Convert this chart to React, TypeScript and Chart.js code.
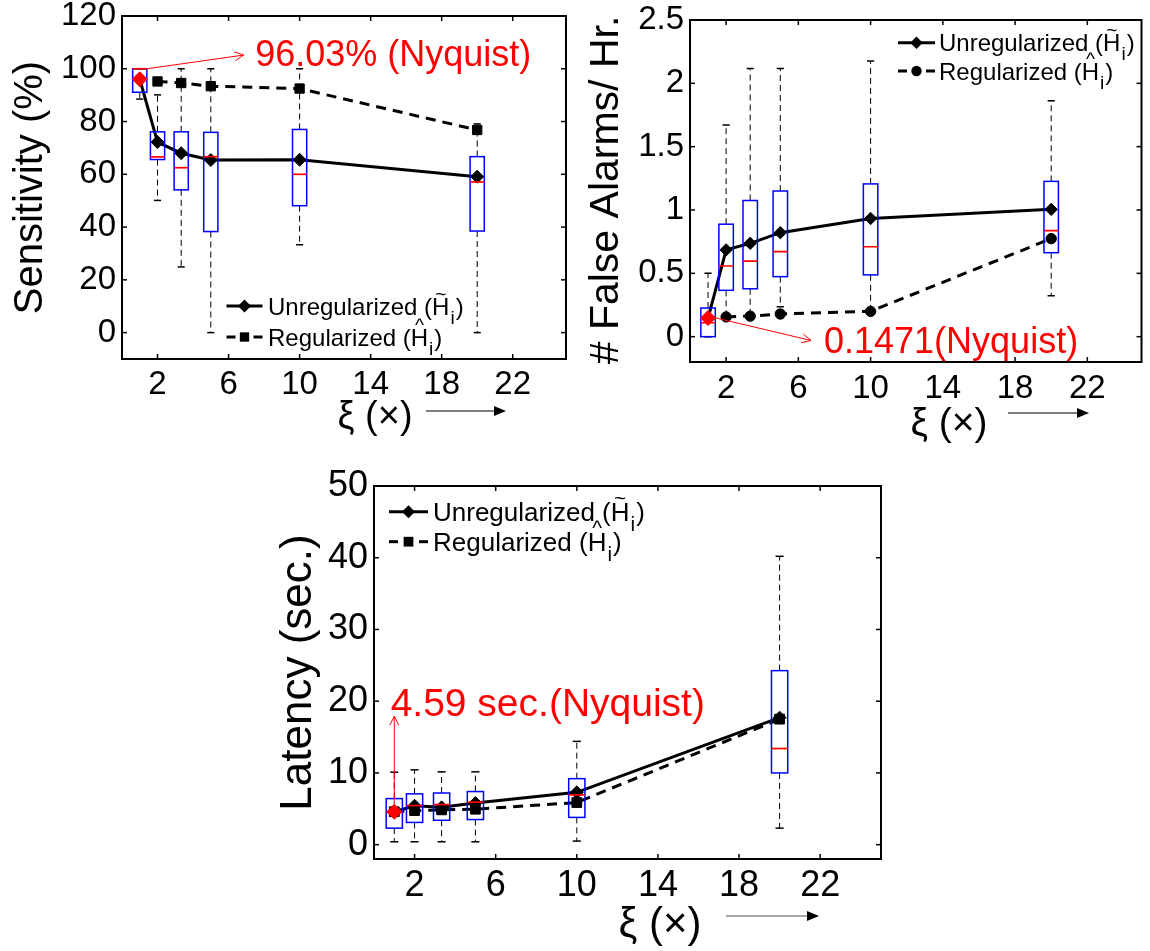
import React, { useEffect, useRef } from 'react';
import { Chart, registerables } from 'chart.js';

Chart.register(...registerables);

const FONT = '"Liberation Sans", Arial, Helvetica, sans-serif';

// ---------------- data ----------------
const XI_BOX = [1, 2, 10 / 3, 5, 10, 20];
const XI_UNREG = [1, 2, 10 / 3, 5, 10, 20];
const XI_REG = [2, 10 / 3, 5, 10, 20];
const XI_REG_LAT = [1, 2, 10 / 3, 5, 10, 20];
const XI_NYQ = [1];
const X_TICKS = [2, 6, 10, 14, 18, 22];

// Sensitivity (%)
const SENS_TICKS = [0, 20, 40, 60, 80, 100, 120];
const SENS_NYQUIST = [96.03];
const SENS_UNREG = [96.03, 72.2, 68.0, 65.4, 65.5, 59.1];
const SENS_REG = [95.2, 94.6, 93.4, 92.5, 76.8];
const SENS_LO = [88.5, 50.1, 24.9, 0, 33.3, 0];
const SENS_Q1 = [91.1, 65.6, 54.1, 38.3, 48.1, 38.5];
const SENS_MED = [100, 66.6, 62.5, 66.7, 60.0, 57.1];
const SENS_Q3 = [100, 76.1, 76.1, 75.9, 77.0, 66.7];
const SENS_HI = [100, 90.1, 100, 100, 100, 79.1];

// # False alarms / hr
const FA_TICKS = [0, 0.5, 1, 1.5, 2, 2.5];
const FA_NYQUIST = [0.1471];
const FA_UNREG = [0.1471, 0.685, 0.737, 0.821, 0.933, 1.005];
const FA_REG = [0.156, 0.162, 0.179, 0.2, 0.774];
const FA_LO = [0, 0.16, 0.16, 0.237, 0.2, 0.324];
const FA_Q1 = [0, 0.366, 0.378, 0.474, 0.488, 0.663];
const FA_MED = [0.11, 0.558, 0.597, 0.671, 0.71, 0.837];
const FA_Q3 = [0.226, 0.888, 1.075, 1.15, 1.206, 1.226];
const FA_HI = [0.5, 1.671, 2.118, 2.118, 2.176, 1.863];

// Latency (sec.)
const LAT_TICKS = [0, 10, 20, 30, 40, 50];
const LAT_NYQUIST = [4.59];
const LAT_UNREG = [4.59, 5.43, 5.2, 5.8, 7.3, 17.7];
const LAT_REG = [4.59, 4.75, 4.85, 4.94, 5.87, 17.5];
const LAT_LO = [0.4, 0.4, 0.4, 0.4, 0.5, 2.3];
const LAT_Q1 = [2.3, 3.1, 3.4, 3.5, 3.8, 10.0];
const LAT_MED = [4.5, 5.45, 5.59, 5.92, 6.94, 13.4];
const LAT_Q3 = [6.42, 7.08, 7.2, 7.4, 9.2, 24.26];
const LAT_HI = [10.1, 10.43, 10.15, 10.15, 14.4, 40.2];

// ---------------- styles ----------------
const BOX_HALF = 0.4;
const CAP_HALF = 0.2;

type Pt = [number, number];
interface BoxSet { x: number[]; lo: number[]; q1: number[]; med: number[]; q3: number[]; hi: number[] }
interface PanelCfg {
  canvas: { left: number; top: number; width: number; height: number };
  area: { left: number; top: number; right: number; bottom: number };
  yMin: number; yMax: number; yTicks: number[];
  tickSize: number; xTickPad: number; yTickPad: number;
  nyqX: number[]; nyqY: number[]; nyqR: number;
  unregX: number[]; unregY: number[]; unregR: number;
  regX: number[]; regY: number[]; regR: number; regStyle: 'rect' | 'circle';
  boxes: BoxSet;
  yTitle: { text: string; x: number; y: number; size: number };
  xTitle: { x: number; y: number; size: number };
  arrow: { x0: number; x1: number; y: number; color: string };
  note: { text: string; at: Pt; size: number; from: Pt; to: Pt };
  legend: { x0: number; x1: number; tx: number; rows: [number, number]; size: number };
}

function drawMarker(ctx: CanvasRenderingContext2D, style: string, x: number, y: number, r: number) {
  ctx.beginPath();
  if (style === 'rectRot') {
    ctx.moveTo(x, y - r); ctx.lineTo(x + r, y); ctx.lineTo(x, y + r); ctx.lineTo(x - r, y); ctx.closePath();
  } else if (style === 'rect') {
    const s = r * Math.SQRT1_2;
    ctx.rect(x - s, y - s, 2 * s, 2 * s);
  } else {
    ctx.arc(x, y, r, 0, Math.PI * 2);
  }
  ctx.fill();
}

function line(ctx: CanvasRenderingContext2D, x0: number, y0: number, x1: number, y1: number) {
  ctx.beginPath(); ctx.moveTo(x0, y0); ctx.lineTo(x1, y1); ctx.stroke();
}

function drawBoxes(chart: any, b: BoxSet) {
  const { ctx, chartArea: a } = chart;
  const xs = chart.scales.x, ys = chart.scales.y;
  ctx.save();
  ctx.beginPath(); ctx.rect(a.left, a.top, a.right - a.left, a.bottom - a.top); ctx.clip();
  for (let i = 0; i < b.x.length; i++) {
    const xc = xs.getPixelForValue(b.x[i]);
    const xl = xs.getPixelForValue(b.x[i] - BOX_HALF);
    const xr = xs.getPixelForValue(b.x[i] + BOX_HALF);
    const cl = xs.getPixelForValue(b.x[i] - CAP_HALF);
    const cr = xs.getPixelForValue(b.x[i] + CAP_HALF);
    const yLo = ys.getPixelForValue(b.lo[i]);
    const yQ1 = ys.getPixelForValue(b.q1[i]);
    const yMed = ys.getPixelForValue(b.med[i]);
    const yQ3 = ys.getPixelForValue(b.q3[i]);
    const yHi = ys.getPixelForValue(b.hi[i]);
    ctx.strokeStyle = '#000';
    ctx.lineWidth = 1;
    ctx.setLineDash([6, 4]);
    if (yHi < yQ3) line(ctx, xc, yQ3, xc, yHi);
    if (yLo > yQ1) line(ctx, xc, yQ1, xc, yLo);
    ctx.setLineDash([]);
    ctx.lineWidth = 1.5;
    line(ctx, cl, yHi, cr, yHi);
    line(ctx, cl, yLo, cr, yLo);
    ctx.strokeStyle = '#0000ff';
    ctx.lineWidth = 1.5;
    ctx.strokeRect(xl, yQ3, xr - xl, yQ1 - yQ3);
    ctx.strokeStyle = '#ff0000';
    ctx.lineWidth = 1.7;
    line(ctx, xl, yMed, xr, yMed);
  }
  ctx.restore();
}

function drawFrame(chart: any) {
  const { ctx, chartArea: a } = chart;
  const xs = chart.scales.x, ys = chart.scales.y;
  ctx.save();
  ctx.strokeStyle = '#000';
  ctx.lineWidth = 1.5;
  const tl = 5;
  xs.ticks.forEach((t: any) => {
    const p = xs.getPixelForValue(t.value);
    line(ctx, p, a.bottom, p, a.bottom - tl);
    line(ctx, p, a.top, p, a.top + tl);
  });
  ys.ticks.forEach((t: any) => {
    const p = ys.getPixelForValue(t.value);
    line(ctx, a.left, p, a.left + tl, p);
    line(ctx, a.right, p, a.right - tl, p);
  });
  ctx.lineWidth = 2;
  ctx.strokeRect(a.left, a.top, a.right - a.left, a.bottom - a.top);
  ctx.restore();
}

function arrowHead(ctx: CanvasRenderingContext2D, x0: number, y0: number, x1: number, y1: number, len: number, half: number, filled: boolean) {
  const ang = Math.atan2(y1 - y0, x1 - x0);
  const bx = x1 - Math.cos(ang) * len, by = y1 - Math.sin(ang) * len;
  const px = -Math.sin(ang) * half, py = Math.cos(ang) * half;
  ctx.beginPath();
  ctx.moveTo(bx + px, by + py);
  ctx.lineTo(x1, y1);
  ctx.lineTo(bx - px, by - py);
  if (filled) { ctx.closePath(); ctx.fill(); } else ctx.stroke();
}

function drawLabelWithAccent(ctx: CanvasRenderingContext2D, word: string, accent: string, x: number, base: number, fs: number) {
  ctx.font = `${fs}px ${FONT}`;
  ctx.textAlign = 'left';
  ctx.textBaseline = 'alphabetic';
  let cx = x;
  const head = word + ' (';
  ctx.fillText(head, cx, base);
  cx += ctx.measureText(head).width;
  const hw = ctx.measureText('H').width;
  ctx.fillText('H', cx, base);
  ctx.save();
  ctx.textAlign = 'center';
  ctx.font = `${fs * 0.8}px ${FONT}`;
  ctx.fillText(accent, cx + hw / 2, base - fs * 0.62);
  ctx.restore();
  cx += hw;
  ctx.font = `${fs * 0.8}px ${FONT}`;
  ctx.fillText('i', cx + 1, base + fs * 0.38);
  cx += ctx.measureText('i').width + 2;
  ctx.font = `${fs}px ${FONT}`;
  ctx.fillText(')', cx, base);
}

function drawOverlay(chart: any, cfg: PanelCfg) {
  const ctx: CanvasRenderingContext2D = chart.ctx;
  const xs = chart.scales.x, ys = chart.scales.y;
  ctx.save();
  // y title
  ctx.fillStyle = '#000';
  ctx.save();
  ctx.translate(cfg.yTitle.x, cfg.yTitle.y);
  ctx.rotate(-Math.PI / 2);
  ctx.font = `${cfg.yTitle.size}px ${FONT}`;
  ctx.textAlign = 'center';
  ctx.textBaseline = 'middle';
  ctx.fillText(cfg.yTitle.text, 0, 0);
  ctx.restore();
  // x title
  ctx.font = `${cfg.xTitle.size}px ${FONT}`;
  ctx.textAlign = 'center';
  ctx.textBaseline = 'middle';
  ctx.fillText('\u03BE (\u00D7)', cfg.xTitle.x, cfg.xTitle.y);
  // x arrow
  const ar = cfg.arrow;
  ctx.strokeStyle = ar.color;
  ctx.lineWidth = 1.2;
  line(ctx, ar.x0, ar.y, ar.x1 - 8, ar.y);
  ctx.fillStyle = '#000';
  arrowHead(ctx, ar.x0, ar.y, ar.x1, ar.y, 12, 5, true);

  // red note
  const n = cfg.note;
  ctx.strokeStyle = '#ff0000';
  ctx.fillStyle = '#ff0000';
  ctx.lineWidth = 1;
  const fx = xs.getPixelForValue(n.from[0]), fy = ys.getPixelForValue(n.from[1]);
  const tx = xs.getPixelForValue(n.to[0]), ty = ys.getPixelForValue(n.to[1]);
  line(ctx, fx, fy, tx, ty);
  arrowHead(ctx, fx, fy, tx, ty, 9, 4.5, false);
  ctx.font = `${n.size}px ${FONT}`;
  ctx.textAlign = 'left';
  ctx.textBaseline = 'middle';
  ctx.fillText(n.text, xs.getPixelForValue(n.at[0]), ys.getPixelForValue(n.at[1]));

  // legend
  const lg = cfg.legend;
  const mid = (lg.x0 + lg.x1) / 2;
  ctx.strokeStyle = '#000';
  ctx.fillStyle = '#000';
  ctx.lineWidth = 3;
  const [r1, r2] = lg.rows;
  line(ctx, lg.x0, r1, lg.x1, r1);
  drawMarker(ctx, 'rectRot', mid, r1, cfg.unregR);
  line(ctx, lg.x0, r2, lg.x0 + 9, r2);
  line(ctx, lg.x1 - 9, r2, lg.x1, r2);
  drawMarker(ctx, cfg.regStyle, mid, r2, cfg.regR);
  const cap = lg.size * 0.36;
  drawLabelWithAccent(ctx, 'Unregularized', '~', lg.tx, r1 + cap, lg.size);
  drawLabelWithAccent(ctx, 'Regularized', '^', lg.tx, r2 + cap, lg.size);
  ctx.restore();
}

function buildChart(canvas: HTMLCanvasElement, cfg: PanelCfg) {
  const A = cfg.area, C = cfg.canvas;
  const yWidth = A.left;
  const xHeight = C.height - A.bottom;
  const tickFont = { family: FONT, size: cfg.tickSize, lineHeight: 1 };
  const panelPlugin = {
    id: 'panelPlugin',
    beforeDatasetDraw(chart: any, args: any) {
      if (args.index === 0) drawBoxes(chart, cfg.boxes);
    },
    afterDraw(chart: any) {
      drawFrame(chart);
      drawOverlay(chart, cfg);
    },
  };
  return new Chart(canvas, {
    type: 'line',
    data: {
      datasets: [
        {
          label: 'Nyquist',
          data: cfg.nyqX.map((x, i) => ({ x, y: cfg.nyqY[i] })),
          showLine: false,
          pointStyle: 'rectRot',
          pointRadius: cfg.nyqR,
          pointBackgroundColor: '#ff0000',
          pointBorderColor: '#ff0000',
          pointBorderWidth: 1,
          borderColor: '#ff0000',
        },
        {
          label: 'Regularized',
          data: cfg.regX.map((x, i) => ({ x, y: cfg.regY[i] })),
          borderColor: '#000',
          borderWidth: 3,
          borderDash: [10, 7],
          pointStyle: cfg.regStyle,
          pointRadius: cfg.regR,
          pointBackgroundColor: '#000',
          pointBorderColor: '#000',
          pointBorderWidth: 1,
          tension: 0,
          fill: false,
        },
        {
          label: 'Unregularized',
          data: cfg.unregX.map((x, i) => ({ x, y: cfg.unregY[i] })),
          borderColor: '#000',
          borderWidth: 3,
          pointStyle: 'rectRot',
          pointRadius: cfg.unregR,
          pointBackgroundColor: '#000',
          pointBorderColor: '#000',
          pointBorderWidth: 1,
          tension: 0,
          fill: false,
        },
      ],
    } as any,
    options: {
      responsive: false,
      animation: false,
      events: [],
      layout: { padding: { left: 0, top: A.top, right: C.width - A.right, bottom: 0 } },
      plugins: { legend: { display: false }, tooltip: { enabled: false } },
      scales: {
        x: {
          type: 'linear',
          min: 0,
          max: 25,
          grid: { display: false, drawTicks: false },
          border: { display: false },
          ticks: {
            font: tickFont, color: '#000', padding: cfg.xTickPad, maxRotation: 0, autoSkip: false,
            callback: (v: any) => String(v),
          },
          afterBuildTicks: (s: any) => { s.ticks = X_TICKS.map((v) => ({ value: v })); },
          afterFit: (s: any) => {
            s.height = xHeight; s.paddingLeft = 0; s.paddingRight = 0; s.paddingTop = 0; s.paddingBottom = 0;
          },
        },
        y: {
          type: 'linear',
          min: cfg.yMin,
          max: cfg.yMax,
          grid: { display: false, drawTicks: false },
          border: { display: false },
          ticks: {
            font: tickFont, color: '#000', padding: cfg.yTickPad, autoSkip: false,
            callback: (v: any) => String(v),
          },
          afterBuildTicks: (s: any) => { s.ticks = cfg.yTicks.map((v) => ({ value: v })); },
          afterFit: (s: any) => {
            s.width = yWidth; s.paddingLeft = 0; s.paddingRight = 0; s.paddingTop = 0; s.paddingBottom = 0;
          },
        },
      },
    } as any,
    plugins: [panelPlugin],
  });
}

const PANELS: PanelCfg[] = [
  {
    canvas: { left: 0, top: 0, width: 575, height: 460 },
    area: { left: 122, top: 16, right: 566, bottom: 359 },
    yMin: -10, yMax: 120, yTicks: SENS_TICKS,
    tickSize: 33, xTickPad: 9, yTickPad: 6,
    nyqX: XI_NYQ, nyqY: SENS_NYQUIST, nyqR: 7.5,
    unregX: XI_UNREG, unregY: SENS_UNREG, unregR: 6.5,
    regX: XI_REG, regY: SENS_REG, regR: 6.6, regStyle: 'rect',
    boxes: { x: XI_BOX, lo: SENS_LO, q1: SENS_Q1, med: SENS_MED, q3: SENS_Q3, hi: SENS_HI },
    yTitle: { text: 'Sensitivity (%)', x: 31, y: 187.5, size: 40 },
    xTitle: { x: 375, y: 418, size: 38 },
    arrow: { x0: 426, x1: 506, y: 411, color: '#000' },
    note: { text: '96.03% (Nyquist)', at: [7.5, 104.8], size: 36, from: [1.4, 100], to: [6.85, 105.2] },
    legend: { x0: 226.5, x1: 262.5, tx: 268, rows: [306, 337], size: 24 },
  },
  {
    canvas: { left: 575, top: 0, width: 575, height: 460 },
    area: { left: 115, top: 20, right: 572, bottom: 362 },
    yMin: -0.2, yMax: 2.5, yTicks: FA_TICKS,
    tickSize: 33, xTickPad: 10, yTickPad: 6,
    nyqX: XI_NYQ, nyqY: FA_NYQUIST, nyqR: 7.5,
    unregX: XI_UNREG, unregY: FA_UNREG, unregR: 6.2,
    regX: XI_REG, regY: FA_REG, regR: 5.2, regStyle: 'circle',
    boxes: { x: XI_BOX, lo: FA_LO, q1: FA_Q1, med: FA_MED, q3: FA_Q3, hi: FA_HI },
    yTitle: { text: '# False Alarms/ Hr.', x: 32, y: 190, size: 41 },
    xTitle: { x: 374, y: 424, size: 39 },
    arrow: { x0: 433, x1: 514, y: 413, color: '#000' },
    note: { text: '0.1471(Nyquist)', at: [7.42, -0.05], size: 36, from: [1.42, 0.148], to: [6.7, -0.03] },
    legend: { x0: 323, x1: 360, tx: 364, rows: [42.7, 71], size: 24 },
  },
  {
    canvas: { left: 270, top: 460, width: 620, height: 491 },
    area: { left: 104, top: 26, right: 611, bottom: 399 },
    yMin: -2, yMax: 50, yTicks: LAT_TICKS,
    tickSize: 36, xTickPad: 9, yTickPad: 6,
    nyqX: XI_NYQ, nyqY: LAT_NYQUIST, nyqR: 7.5,
    unregX: XI_UNREG, unregY: LAT_UNREG, unregR: 6.5,
    regX: XI_REG_LAT, regY: LAT_REG, regR: 6.9, regStyle: 'rect',
    boxes: { x: XI_BOX, lo: LAT_LO, q1: LAT_Q1, med: LAT_MED, q3: LAT_Q3, hi: LAT_HI },
    yTitle: { text: 'Latency (sec.)', x: 29, y: 212.5, size: 44 },
    xTitle: { x: 390, y: 465, size: 42 },
    arrow: { x0: 456, x1: 549, y: 456, color: '#555' },
    note: { text: '4.59 sec.(Nyquist)', at: [0.82, 19.5], size: 39, from: [1, 4.59], to: [1, 17.9] },
    legend: { x0: 119, x1: 158, tx: 163, rows: [51.7, 81.7], size: 26 },
  },
];

function Panel({ cfg }: { cfg: PanelCfg }) {
  const ref = useRef<HTMLCanvasElement | null>(null);
  useEffect(() => {
    if (!ref.current) return;
    const chart = buildChart(ref.current, cfg);
    return () => chart.destroy();
  }, [cfg]);
  const c = cfg.canvas;
  return (
    <canvas
      ref={ref}
      width={c.width}
      height={c.height}
      style={{ position: 'absolute', left: c.left, top: c.top, width: c.width, height: c.height }}
    />
  );
}

export default function App() {
  return (
    <div style={{ position: 'absolute', left: 0, top: 0, width: 1150, height: 951, background: '#fff', overflow: 'hidden' }}>
      {PANELS.map((p, i) => (
        <Panel key={i} cfg={p} />
      ))}
    </div>
  );
}
